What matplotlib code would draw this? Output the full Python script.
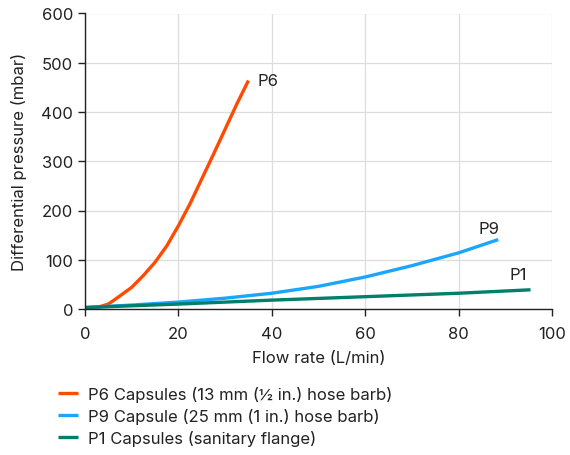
import matplotlib
matplotlib.use("Agg")
import matplotlib.pyplot as plt

plt.rcParams['font.family'] = ['Inter', 'DejaVu Sans']

p6_x = [0, 2.9, 5, 7.1, 10, 12.5, 15, 17.5, 20, 22.5, 25, 27.5, 30, 32.5, 35]
p6_y = [2, 4, 10, 24, 44, 68, 95, 128, 169, 214, 264, 314, 365, 416, 464]
p9_x = [0, 10, 20, 30, 40, 50, 60, 70, 80, 88.5]
p9_y = [3, 8, 14, 22, 32, 46, 65, 88, 114, 141]
p1_x = [0, 20, 40, 60, 80, 95.4]
p1_y = [3, 10, 18, 25, 32, 39]

labels = ["P6 Capsules (13 mm (½ in.) hose barb)",
          "P9 Capsule (25 mm (1 in.) hose barb)",
          "P1 Capsules (sanitary flange)"]
colors = ["#FF4B00", "#1AA6FF", "#00806A"]

fig = plt.figure(figsize=(5.7, 4.56), dpi=100)
ax = fig.add_axes([85/570, 1-310/456, (552-85)/570, (310-14.5)/456])

l6, = ax.plot(p6_x, p6_y, color=colors[0], lw=2.4, label=labels[0], solid_capstyle='butt')
l9, = ax.plot(p9_x, p9_y, color=colors[1], lw=2.4, label=labels[1], solid_capstyle='butt')
l1, = ax.plot(p1_x, p1_y, color=colors[2], lw=2.4, label=labels[2], solid_capstyle='butt')

ax.text(37, 463, "P6", fontsize=12, va='center', ha='left', color='#222222')
ax.text(86.5, 164, "P9", fontsize=12, va='center', ha='center', color='#222222')
ax.text(92.8, 71, "P1", fontsize=12, va='center', ha='center', color='#222222')

ax.set_xlim(0, 100)
ax.set_ylim(0, 600)
ax.set_xticks([0, 20, 40, 60, 80, 100])
ax.set_yticks([0, 100, 200, 300, 400, 500, 600])
ax.grid(True, color='#DDDDDD', lw=0.9)
ax.set_axisbelow(True)
for s in ['top', 'right']:
    ax.spines[s].set_visible(False)
for s in ['left', 'bottom']:
    ax.spines[s].set_color('#222222')
    ax.spines[s].set_linewidth(1.0)
ax.tick_params(axis='both', labelsize=12, colors='#222222', length=5, width=1, direction='out')
ax.tick_params(axis='x', pad=7)
ax.set_xlabel("Flow rate (L/min)", fontsize=12, color='#222222', labelpad=7)
ax.set_ylabel("Differential pressure (mbar)", fontsize=12, color='#222222', labelpad=10)

fig.legend(handles=[l6, l9, l1], loc='upper left', bbox_to_anchor=(58/570, 1-387/456),
           frameon=False, fontsize=12, handlelength=1.2, handletextpad=0.6,
           labelspacing=0.35, borderpad=0, borderaxespad=0, labelcolor='#222222')

fig.savefig("out.png", dpi=100)
